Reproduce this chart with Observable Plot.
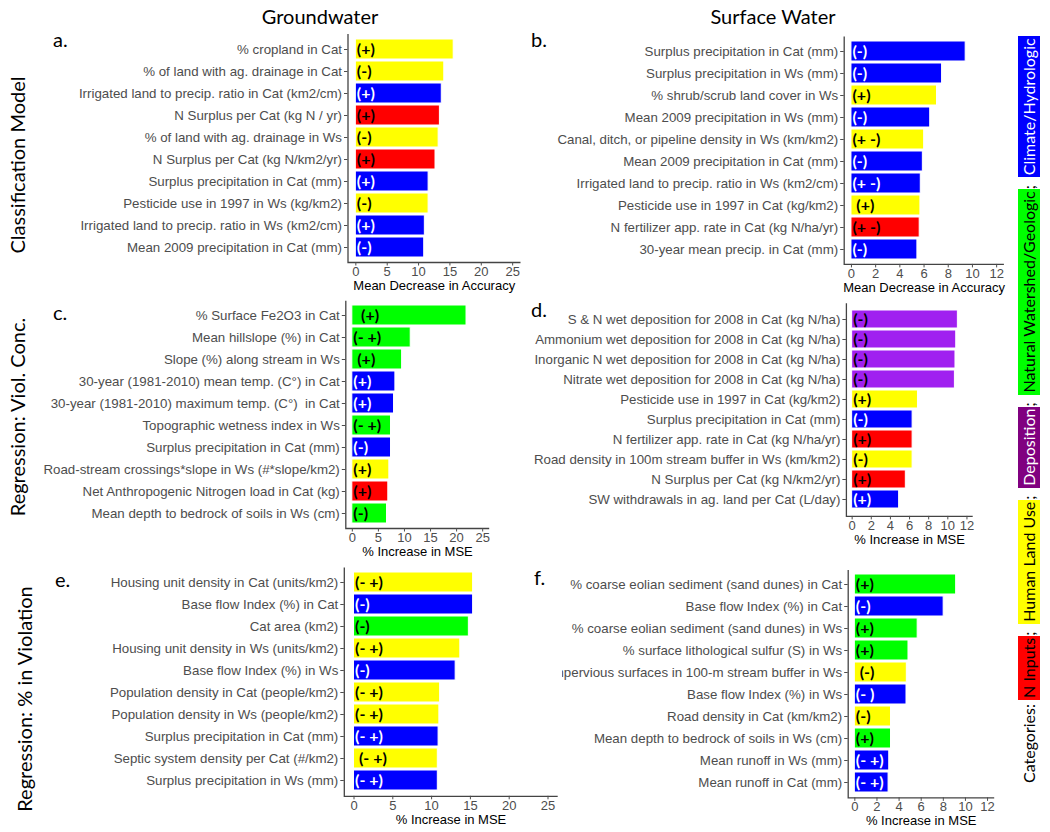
<!DOCTYPE html>
<html><head><meta charset="utf-8">
<script src="https://cdn.jsdelivr.net/npm/d3@7"></script>
<script src="https://cdn.jsdelivr.net/npm/@observablehq/plot@0.6"></script>
<style>
body{margin:0;background:#fff;}
#fig{position:relative;width:1050px;height:832px;overflow:hidden;background:#fff;font-family:Lato,"Open Sans",sans-serif;color:#000;}
.abs{position:absolute;white-space:nowrap;}
.hdr{font-size:20px;transform:translate(-50%,-50%);}
.row{font-size:20px;transform:translate(-50%,-50%) rotate(-90deg);}
.let{font-size:20px;transform:translate(0,-50%);}
.pan{position:absolute;}
.pan svg{overflow:hidden;background:transparent;}
#legend{position:absolute;left:1018px;top:783px;transform-origin:0 0;transform:rotate(-90deg);white-space:nowrap;font-size:16px;line-height:22px;height:22px;font-family:Lato,sans-serif;}
#legend span.box{display:inline-block;padding:0 2px;height:22px;}
#legend span.sep{display:inline-block;width:12px;}
</style></head>
<body><div id="fig"></div>
<script>
// ---- categories ----
const CH = "Climate/Hydrologic", NW = "Natural Watershed/Geologic", DE = "Deposition", HL = "Human Land Use", NI = "N Inputs";
const catNames = [CH, NW, DE, HL, NI];
const barColors = ["#0000FF", "#00FF00", "#A020F0", "#FFFF00", "#FF0000"];
const legendColors = ["#0000FF", "#00FF00", "#800080", "#FFFF00", "#FF0000"];
const legendTextColors = ["#FFFFFF", "#000000", "#FFFFFF", "#000000", "#000000"];
const legendOrder = [NI, HL, DE, NW, CH];

// ---- tick labels ----
const ticks25 = [0, 5, 10, 15, 20, 25];
const ticks12 = [0, 2, 4, 6, 8, 10, 12];

// ---- panel a: Groundwater, classification ----
const aLabels = ["% cropland in Cat", "% of land with ag. drainage in Cat", "Irrigated land to precip. ratio in Cat (km2/cm)", "N Surplus per Cat (kg N / yr)", "% of land with ag. drainage in Ws", "N Surplus per Cat (kg N/km2/yr)", "Surplus precipitation in Cat (mm)", "Pesticide use in 1997 in Ws (kg/km2)", "Irrigated land to precip. ratio in Ws (km2/cm)", "Mean 2009 precipitation in Cat (mm)"];
const aValues = [15.6, 14.1, 13.7, 13.4, 13.2, 12.7, 11.6, 11.6, 11.0, 10.9];
const aCats = [HL, HL, CH, NI, HL, NI, CH, HL, CH, CH];
const aSigns = ["(+)", "(-)", "(+)", "(+)", "(-)", "(+)", "(+)", "(-)", "(+)", "(-)"];

// ---- panel b: Surface water, classification ----
const bLabels = ["Surplus precipitation in Cat (mm)", "Surplus precipitation in Ws (mm)", "% shrub/scrub land cover in Ws", "Mean 2009 precipitation in Ws (mm)", "Canal, ditch, or pipeline density in Ws (km/km2)", "Mean 2009 precipitation in Cat (mm)", "Irrigated land to precip. ratio in Ws (km2/cm)", "Pesticide use in 1997 in Cat (kg/km2)", "N fertilizer app. rate in Cat (kg N/ha/yr)", "30-year mean precip. in Cat (mm)"];
const bValues = [9.44, 7.49, 7.07, 6.51, 6.01, 5.9, 5.73, 5.7, 5.64, 5.45];
const bCats = [CH, CH, HL, CH, HL, CH, CH, HL, NI, CH];
const bSigns = ["(-)", "(-)", "(+)", "(-)", "(+ -)", "(-)", "(+ -)", "\u00a0(+)", "(+ -)", "(-)"];

// ---- panel c: Groundwater, regression viol. conc. ----
const cLabels = ["% Surface Fe2O3 in Cat", "Mean hillslope (%) in Cat", "Slope (%) along stream in Ws", "30-year (1981-2010) mean temp. (C°) in Cat", "30-year (1981-2010) maximum temp. (C°)\u00a0 in Cat", "Topographic wetness index in Ws", "Surplus precipitation in Cat (mm)", "Road-stream crossings*slope in Ws (#*slope/km2)", "Net Anthropogenic Nitrogen load in Cat (kg)", "Mean depth to bedrock of soils in Ws (cm)"];
const cValues = [21.9, 11.2, 9.55, 8.26, 8.0, 7.42, 7.42, 7.1, 6.9, 6.65];
const cCats = [NW, NW, NW, CH, CH, NW, CH, HL, NI, NW];
const cSigns = ["\u00a0\u00a0(+)", "(- +)", "\u00a0(+)", "(+)", "(+)", "(- +)", "(-)", "(+)", "(+)", "(-)"];

// ---- panel d: Surface water, regression viol. conc. ----
const dLabels = ["S & N wet deposition for 2008 in Cat (kg N/ha)", "Ammonium wet deposition for 2008 in Cat (kg N/ha)", "Inorganic N wet deposition for 2008 in Cat (kg N/ha)", "Nitrate wet deposition for 2008 in Cat (kg N/ha)", "Pesticide use in 1997 in Cat (kg/km2)", "Surplus precipitation in Cat (mm)", "N fertilizer app. rate in Cat (kg N/ha/yr)", "Road density in 100m stream buffer in Ws (km/km2)", "N Surplus per Cat (kg N/km2/yr)", "SW withdrawals in ag. land per Cat (L/day)"];
const dValues = [11.05, 10.88, 10.8, 10.74, 6.88, 6.32, 6.32, 6.32, 5.61, 4.91];
const dCats = [DE, DE, DE, DE, HL, CH, NI, HL, NI, CH];
const dSigns = ["(-)", "(-)", "(-)", "(-)", "(+)", "(-)", "(+)", "(-)", "(+)", "(+)"];

// ---- panel e: Groundwater, regression % in violation ----
const eLabels = ["Housing unit density in Cat (units/km2)", "Base flow Index (%) in Cat", "Cat area (km2)", "Housing unit density in Ws (units/km2)", "Base flow Index (%) in Ws", "Population density in Cat (people/km2)", "Population density in Ws (people/km2)", "Surplus precipitation in Cat (mm)", "Septic system density per Cat (#/km2)", "Surplus precipitation in Ws (mm)"];
const eValues = [15.35, 15.35, 14.8, 13.7, 13.1, 11.1, 11.0, 10.9, 10.8, 10.8];
const eCats = [HL, CH, NW, HL, CH, HL, HL, CH, HL, CH];
const eSigns = ["(- +)", "(-)", "(-)", "(- +)", "(-)", "(- +)", "(- +)", "(- +)", "\u00a0(- +)", "(- +)"];

// ---- panel f: Surface water, regression % in violation ----
const fLabels = ["% coarse eolian sediment (sand dunes) in Cat", "Base flow Index (%) in Cat", "% coarse eolian sediment (sand dunes) in Ws", "% surface lithological sulfur (S) in Ws", "% impervious surfaces in 100-m stream buffer in Ws", "Base flow Index (%) in Ws", "Road density in Cat (km/km2)", "Mean depth to bedrock of soils in Ws (cm)", "Mean runoff in Ws (mm)", "Mean runoff in Cat (mm)"];
const fValues = [9.16, 8.03, 5.68, 4.85, 4.70, 4.67, 3.27, 3.27, 3.11, 3.05];
const fCats = [NW, CH, NW, NW, HL, CH, HL, NW, CH, CH];
const fSigns = ["(+)", "(-)", "(+)", "(+)", "\u00a0(-)", "(- )", "(-)", "(+)", "(- +)", "(- +)"];

const fig = document.getElementById("fig");
function addText(cls, txt, left, top) {
  const d = document.createElement("div");
  d.className = "abs " + cls;
  d.textContent = txt;
  d.style.left = left + "px";
  d.style.top = top + "px";
  fig.appendChild(d);
  return d;
}

function panel(p) {
  const data = p.labels.map((label, i) => ({label, value: p.values[i], cat: p.cats[i], sign: p.signs[i]}));
  const pw = p.width - p.mL - p.mR, ph = p.height - p.mT - p.mB;
  const lbl = {x: d => 0, y: "label", text: "sign", textAnchor: "start", dx: 1, fontSize: 16, fontWeight: "bold", fontFamily: "Lato, sans-serif"};
  const svg = Plot.plot({
    width: p.width, height: p.height,
    marginLeft: p.mL, marginRight: p.mR, marginTop: p.mT, marginBottom: p.mB,
    style: {background: "transparent", overflow: "hidden", fontFamily: "'Liberation Sans', Arial, sans-serif", fontSize: "13px"},
    x: {domain: p.domain, ticks: p.ticks, label: null},
    y: {domain: p.labels, paddingInner: 0.1, paddingOuter: 0.15, label: null},
    color: {domain: catNames, range: barColors},
    marks: [
      Plot.barX(data, {x: "value", y: "label", fill: "cat", stroke: "white", strokeWidth: 1}),
      Plot.text(data, {...lbl, filter: d => d.cat === CH, fill: "white"}),
      Plot.text(data, {...lbl, filter: d => d.cat !== CH, fill: "black"}),
      Plot.frame({stroke: "#444", strokeWidth: 1.3, fill: "none", strokeDasharray: `0,${pw + ph},${pw + ph}`}),
      Plot.axisY({tickSize: 3.5, tickPadding: 2.5, fill: "#4D4D4D", stroke: "#4D4D4D", fontSize: 13.3, label: null}),
      Plot.axisX({ticks: p.ticks, tickSize: 3.5, tickPadding: 0.5, fill: "#4D4D4D", stroke: "#4D4D4D", fontSize: 13, label: null}),
      Plot.text([p.title], {frameAnchor: "bottom", dy: 27.5, text: d => d, fill: "black", fontSize: 13})
    ]
  });
  const div = document.createElement("div");
  div.className = "pan";
  div.style.left = p.left + "px";
  div.style.top = p.top + "px";
  div.appendChild(svg);
  fig.appendChild(div);
}

const MDA = "Mean Decrease in Accuracy", MSE = "% Increase in MSE";
panel({labels: aLabels, values: aValues, cats: aCats, signs: aSigns, ticks: ticks25, domain: [-1.25, 26.25], title: MDA,
  left: 40, top: 20, width: 490, height: 282, mL: 307.5, mR: 10, mT: 13.5, mB: 40});
panel({labels: bLabels, values: bValues, cats: bCats, signs: bSigns, ticks: ticks12, domain: [-0.6, 12.6], title: MDA,
  left: 555, top: 20, width: 455, height: 282, mL: 288.7, mR: 6.6, mT: 15.9, mB: 38.1});
panel({labels: cLabels, values: cValues, cats: cCats, signs: cSigns, ticks: ticks25, domain: [-1.25, 26.25], title: MSE,
  left: 40, top: 285, width: 500, height: 285, mL: 305.3, mR: 51.3, mT: 15.2, mB: 42});
panel({labels: dLabels, values: dValues, cats: dCats, signs: dSigns, ticks: ticks12, domain: [-0.6, 12.6], title: MSE,
  left: 530, top: 290, width: 480, height: 262, mL: 315.9, mR: 37.8, mT: 12.8, mB: 36.1});
panel({labels: eLabels, values: eValues, cats: eCats, signs: eSigns, ticks: ticks25, domain: [-1.25, 26.25], title: MSE,
  left: 60, top: 555, width: 500, height: 277, mL: 283.8, mR: 2.8, mT: 11.9, mB: 36.2});
panel({labels: fLabels, values: fValues, cats: fCats, signs: fSigns, ticks: ticks12, domain: [-0.6, 12.6], title: MSE,
  left: 562, top: 555, width: 448, height: 277, mL: 285.7, mR: 16.3, mT: 14.4, mB: 34.6});

// headers, row labels, panel letters
addText("hdr", "Groundwater", 320, 16);
addText("hdr", "Surface Water", 773, 16);
addText("row", "Classification Model", 17, 165);
addText("row", "Regression: Viol. Conc.", 17, 417);
addText("row", "Regression: % in Violation", 24, 699);
addText("let", "a.", 53, 39);
addText("let", "b.", 531, 39);
addText("let", "c.", 53, 312);
addText("let", "d.", 531, 309);
addText("let", "e.", 55, 579);
addText("let", "f.", 534, 577);

// legend (vertical, reading bottom to top)
const leg = document.createElement("div");
leg.id = "legend";
leg.appendChild(document.createTextNode("Categories: "));
legendOrder.forEach((c, i) => {
  const k = catNames.indexOf(c);
  const s = document.createElement("span");
  s.className = "box";
  s.textContent = c;
  s.style.background = legendColors[k];
  s.style.color = legendTextColors[k];
  leg.appendChild(s);
  if (i < legendOrder.length - 1) {
    const sep = document.createElement("span");
    sep.className = "sep";
    sep.textContent = ";";
    leg.appendChild(sep);
  }
});
fig.appendChild(leg);
</script>
</body></html>
